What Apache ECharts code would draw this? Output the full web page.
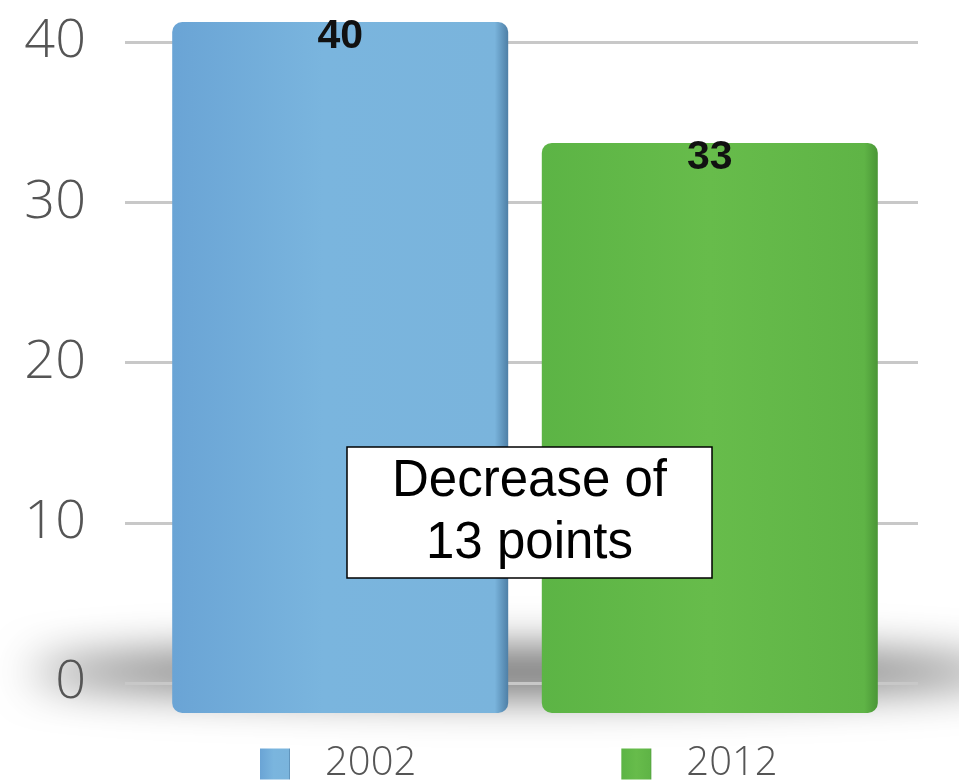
<!DOCTYPE html>
<html>
<head>
<meta charset="utf-8">
<script src="https://cdn.jsdelivr.net/npm/echarts@6/dist/echarts.min.js"></script>
<style>
  html, body { margin: 0; padding: 0; background: #ffffff; }
  #chart { width: 959px; height: 784px; }
</style>
</head>
<body>
<div id="chart"></div>
<script>
// Survey score in two years
const years = ['2002', '2012'];
const values = [40, 33];
const yTicks = [0, 10, 20, 30, 40];
const noteText = 'Decrease of\n13 points';

const barColors = {
  '2002': new echarts.graphic.LinearGradient(0, 0, 1, 0, [
    { offset: 0, color: '#6aa4d5' },
    { offset: 0.45, color: '#7ab5de' },
    { offset: 0.96, color: '#7ab4dc' },
    { offset: 1, color: '#4e7fa6' }
  ]),
  '2012': new echarts.graphic.LinearGradient(0, 0, 1, 0, [
    { offset: 0, color: '#5cb445' },
    { offset: 0.5, color: '#67bc4b' },
    { offset: 0.96, color: '#5fb446' },
    { offset: 1, color: '#4a9636' }
  ])
};

const chart = echarts.init(document.getElementById('chart'), null, { renderer: 'canvas' });

const option = {
  animation: false,
  backgroundColor: '#ffffff',
  grid: [
    // value axis with gridlines
    { left: 125, right: 41, top: 42, bottom: 101 },
    // bars, standing slightly forward of the grid floor
    { left: 125, right: 34, top: 22, bottom: 71 }
  ],
  xAxis: [
    { type: 'category', gridIndex: 0, data: [''], show: false },
    { type: 'category', gridIndex: 1, data: [''], show: false }
  ],
  yAxis: [
    {
      type: 'value', gridIndex: 0, min: yTicks[0], max: yTicks[yTicks.length - 1], interval: 10,
      axisLine: { show: false }, axisTick: { show: false },
      axisLabel: {
        margin: 39, color: '#555555', fontSize: 54, fontWeight: 300,
        fontFamily: 'Open Sans', verticalAlign: 'middle', padding: [0, 0, 6, 0]
      },
      splitLine: { lineStyle: { color: '#c8c8c8', width: 3 } }
    },
    { type: 'value', gridIndex: 1, min: 0, max: 40, show: false }
  ],
  legend: {
    left: 255, top: 739,
    itemWidth: 30, itemHeight: 31, itemGap: 205,
    icon: 'rect',
    textStyle: {
      color: '#555555', fontSize: 40, fontWeight: 300, fontFamily: 'Open Sans',
      padding: [0, 0, 0, 30]
    },
    data: years
  },
  series: years.map((y, i) => ({
    name: y,
    type: 'bar',
    xAxisIndex: 1,
    yAxisIndex: 1,
    barWidth: 336,
    barGap: '10%',
    data: [values[i]],
    itemStyle: { color: barColors[y], borderRadius: 10 },
    label: {
      show: true, position: 'insideTop', distance: -6,
      color: '#111111', fontSize: 41, fontWeight: 'bold', fontFamily: 'Liberation Sans'
    }
  })),
  graphic: [
    {
      // soft floor shadow behind the bars (only its blur is visible)
      type: 'ellipse', z: -10, silent: true,
      shape: { cx: 520, cy: 672 - 3000, rx: 490, ry: 22 },
      style: {
        fill: '#000', shadowColor: 'rgba(0,0,0,0.62)', shadowBlur: 45,
        shadowOffsetX: 0, shadowOffsetY: 3000
      }
    },
    {
      type: 'rect', z: 100, zlevel: 1,
      shape: { x: 347, y: 447, width: 365, height: 131 },
      style: { fill: '#ffffff', stroke: '#000000', lineWidth: 1.5 }
    },
    {
      type: 'text', z: 101, zlevel: 1, x: 529.5, y: 513,
      style: {
        text: noteText, fill: '#000000', fontSize: 51, lineHeight: 62,
        fontFamily: 'Liberation Sans', align: 'center', verticalAlign: 'middle'
      }
    }
  ]
};

chart.setOption(option);
</script>
</body>
</html>
